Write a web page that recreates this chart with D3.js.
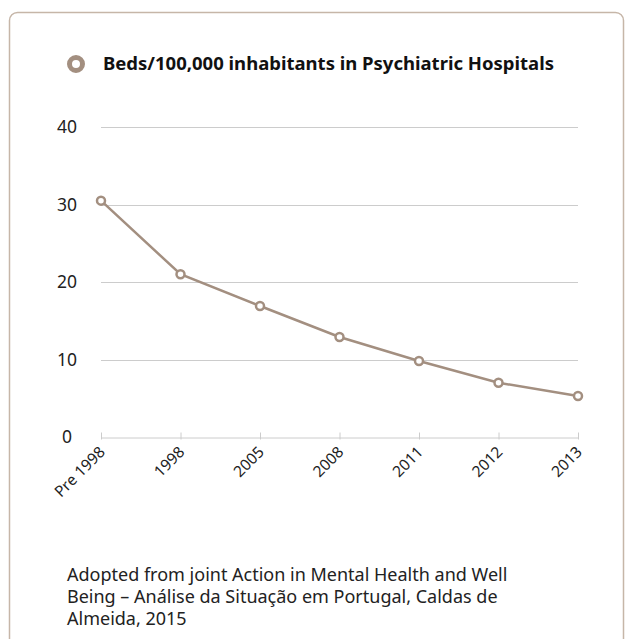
<!DOCTYPE html>
<html>
<head>
<meta charset="utf-8">
<script src="https://cdn.jsdelivr.net/npm/d3@7"></script>
<style>
  body { margin: 0; background: #fff; }
  text { font-family: "Noto Sans", "Open Sans", sans-serif; fill: #222; }
</style>
</head>
<body>
<div id="chart"></div>
<script>
const categories = ['Pre 1998', '1998', '2005', '2008', '2011', '2012', '2013']
const beds = [30.5, 21, 16.9, 12.9, 9.8, 7, 5.3]
const yTicks = [0, 10, 20, 30, 40]
const seriesName = 'Beds/100,000 inhabitants in Psychiatric Hospitals'
const sourceLines = [
  'Adopted from joint Action in Mental Health and Well',
  'Being \u2013 An\u00e1lise da Situa\u00e7\u00e3o em Portugal, Caldas de',
  'Almeida, 2015'
]

const W = 625, H = 639
const lineColor = '#a38f80'

var svg = d3.select('#chart')
  .append('svg')
  .attr('width', W)
  .attr('height', H)

// card border
svg.append('rect')
  .attr('x', 9.5).attr('y', 12.5)
  .attr('width', 614).attr('height', 700)
  .attr('rx', 8)
  .attr('fill', '#fff')
  .attr('stroke', '#c6b6a8')
  .attr('stroke-width', 1.5)

// legend
svg.append('circle')
  .attr('cx', 76).attr('cy', 64).attr('r', 6.5)
  .attr('fill', '#fff')
  .attr('stroke', lineColor)
  .attr('stroke-width', 5)

svg.append('text')
  .attr('x', 103).attr('y', 70)
  .style('font-size', '18.5px')
  .style('font-weight', 'bold')
  .style('fill', '#111')
  .text(seriesName)

var x = d3.scalePoint().domain(categories).range([101, 578])
var y = d3.scaleLinear().domain([0, 40]).range([437, 127])

// gridlines
svg.append('g')
  .selectAll('line')
  .data(yTicks.filter(d => d > 0))
  .enter()
  .append('line')
  .attr('x1', 101).attr('x2', 578)
  .attr('y1', d => Math.round(y(d)) + 0.5)
  .attr('y2', d => Math.round(y(d)) + 0.5)
  .attr('stroke', '#cccccc')

// y labels
svg.append('g')
  .selectAll('text')
  .data(yTicks)
  .enter()
  .append('text')
  .attr('x', 67)
  .attr('y', d => y(d) + 6)
  .attr('text-anchor', 'middle')
  .style('font-size', '17.5px')
  .text(d => d)

// x axis
var xAxis = d3.axisBottom(x).tickSizeInner(-5).tickSizeOuter(0).tickFormat('')
var gx = svg.append('g')
  .attr('transform', 'translate(0,' + (Math.round(y(0)) + 0.5) + ')')
  .call(xAxis)
gx.select('.domain').attr('stroke', '#cccccc')
gx.selectAll('.tick line').attr('stroke', '#cccccc').attr('y2', 2).attr('y1', -5)

svg.append('g')
  .selectAll('text')
  .data(categories)
  .enter()
  .append('text')
  .attr('transform', d => 'translate(' + (x(d) + 5) + ',453) rotate(-45)')
  .attr('text-anchor', 'end')
  .style('font-size', '15.5px')
  .text(d => d)

// line
var line = d3.line()
  .x((d, i) => x(categories[i]))
  .y(d => y(d))

svg.append('path')
  .datum(beds)
  .attr('d', line)
  .attr('fill', 'none')
  .attr('stroke', lineColor)
  .attr('stroke-width', 2.5)

svg.append('g')
  .selectAll('circle')
  .data(beds)
  .enter()
  .append('circle')
  .attr('cx', (d, i) => x(categories[i]))
  .attr('cy', d => y(d))
  .attr('r', 4)
  .attr('fill', '#fff')
  .attr('stroke', lineColor)
  .attr('stroke-width', 2.5)

// source note
svg.append('g')
  .selectAll('text')
  .data(sourceLines)
  .enter()
  .append('text')
  .attr('x', 67)
  .attr('y', (d, i) => 581 + i * 22)
  .style('font-size', '18px')
  .text(d => d)
</script>
</body>
</html>
